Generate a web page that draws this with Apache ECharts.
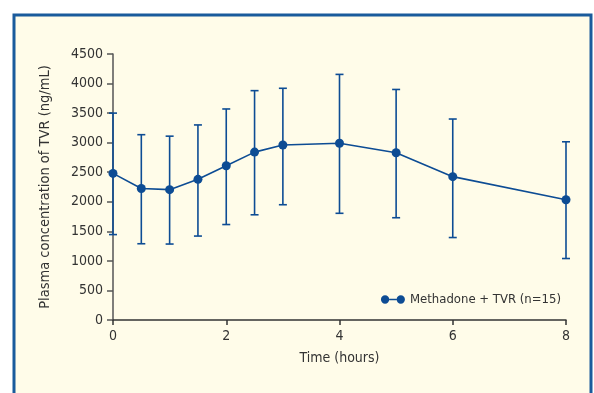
<!DOCTYPE html>
<html>
<head>
<meta charset="utf-8">
<script src="https://cdn.jsdelivr.net/npm/echarts@6/dist/echarts.min.js"></script>
<style>
  html, body { margin: 0; padding: 0; background: #fff; }
  #main { width: 594px; height: 393px; }
</style>
</head>
<body>
<div id="main"></div>
<script>
  // time points (hours) and TVR plasma concentration (ng/mL)
  var hours = [0, 0.5, 1, 1.5, 2, 2.5, 3, 4, 5, 6, 8];
  var meanConc = [2480, 2225, 2205, 2380, 2610, 2840, 2960, 2990, 2830, 2425, 2035];
  var upperConc = [3500, 3135, 3110, 3300, 3570, 3880, 3920, 4155, 3900, 3400, 3015];
  var lowerConc = [1445, 1290, 1285, 1420, 1615, 1780, 1950, 1805, 1730, 1395, 1040];

  var blue = '#0d4c94';
  var font = '"DejaVu Sans Condensed", "Liberation Sans Narrow", sans-serif';

  var lineData = hours.map(function (h, i) { return [h, meanConc[i]]; });
  var errData = hours.map(function (h, i) { return [h, lowerConc[i], upperConc[i]]; });

  var myChart = echarts.init(document.getElementById('main'));
  myChart.setOption({
    animation: false,
    backgroundColor: '#ffffff',
    graphic: [{
      type: 'rect',
      z: -10,
      shape: { x: 14, y: 15, width: 577, height: 400 },
      style: { fill: '#fffce9', stroke: '#1a5b9c', lineWidth: 3 }
    }],
    grid: { left: 113, right: 28, top: 54, bottom: 73 },
    legend: {
      right: 28, top: 288,
      itemWidth: 24, itemHeight: 9,
      itemGap: 0,
      textStyle: { fontFamily: font, fontSize: 13, color: '#333' },
      data: [{
        name: 'Methadone + TVR (n=15)',
        icon: 'path://M0,4.5a4.5,4.5 0 1,0 9,0a4.5,4.5 0 1,0 -9,0M9,3.8h8v1.4h-8zM17,4.5a4.5,4.5 0 1,0 9,0a4.5,4.5 0 1,0 -9,0'
      }]
    },
    xAxis: {
      type: 'value',
      min: 0, max: 8, interval: 2,
      name: 'Time (hours)',
      nameLocation: 'middle',
      nameGap: 31,
      nameTextStyle: { fontFamily: font, fontSize: 14, color: '#333' },
      axisLine: { lineStyle: { color: '#333', width: 1.5 } },
      axisTick: { show: true, length: 5, lineStyle: { color: '#333', width: 1.5 } },
      axisLabel: { fontFamily: font, fontSize: 14, color: '#333', margin: 9 },
      splitLine: { show: false }
    },
    yAxis: {
      type: 'value',
      min: 0, max: 4500, interval: 500,
      name: 'Plasma concentration of TVR (ng/mL)',
      nameLocation: 'middle',
      nameGap: 60,
      nameTextStyle: { fontFamily: font, fontSize: 14.5, color: '#333' },
      axisLine: { show: true, lineStyle: { color: '#555', width: 1.5 } },
      axisTick: { show: true, length: 6, lineStyle: { color: '#555', width: 1.5 } },
      axisLabel: {
        fontFamily: font, fontSize: 14, color: '#333', margin: 10,
        formatter: function (v) { return String(v); }
      },
      splitLine: { show: false }
    },
    series: [
      {
        type: 'custom',
        name: 'err',
        silent: true,
        z: 1,
        data: errData,
        renderItem: function (params, api) {
          var x = api.value(0);
          var lo = api.coord([x, api.value(1)]);
          var hi = api.coord([x, api.value(2)]);
          var hw = 4;
          var st = { stroke: blue, lineWidth: 1.6 };
          return {
            type: 'group',
            children: [
              { type: 'line', shape: { x1: lo[0], y1: lo[1], x2: hi[0], y2: hi[1] }, style: st },
              { type: 'line', shape: { x1: hi[0] - hw, y1: hi[1], x2: hi[0] + hw, y2: hi[1] }, style: st },
              { type: 'line', shape: { x1: lo[0] - hw, y1: lo[1], x2: lo[0] + hw, y2: lo[1] }, style: st }
            ]
          };
        }
      },
      {
        type: 'line',
        name: 'Methadone + TVR (n=15)',
        z: 3,
        data: lineData,
        symbol: 'circle',
        symbolSize: 9,
        itemStyle: { color: blue },
        lineStyle: { color: blue, width: 1.6 }
      }
    ]
  });
</script>
</body>
</html>
